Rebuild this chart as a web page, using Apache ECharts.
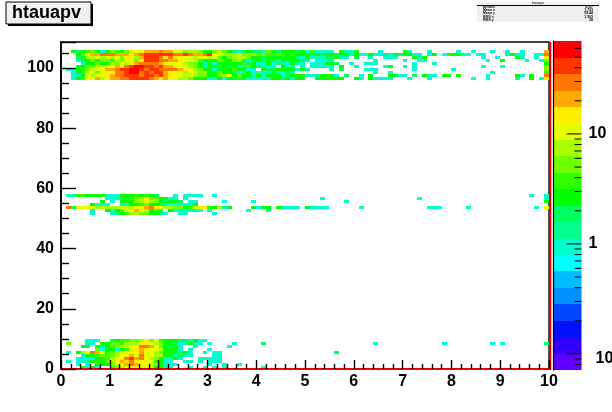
<!DOCTYPE html>
<html><head><meta charset="utf-8">
<style>html,body{margin:0;padding:0;background:#fff}#c{width:612px;height:412px}</style>
<script src="https://cdn.jsdelivr.net/npm/echarts@6/dist/echarts.min.js"></script>
</head><body><div id="c"></div>
<script>
const titleText = "htauapv";
const statLabels = ["Entries","Mean x","Mean y","RMS x","RMS y"];
const statValues = ["8707","1.733","59.44","1.503","38"];
const xTicks = [0,1,2,3,4,5,6,7,8,9,10];
const yTicks = [0,20,40,60,80,100];
const yTop = 108.6;
const colorEdges = [0.0714,0.1007,0.142,0.2,0.283,0.4,0.564,0.795,1.12,1.58,2.23,3.15,4.44,6.27,8.84,12.5,17.6,24.8,35,49.5,70];
const palette = ["#6000ff","#3000ff","#0010ff","#0048ff","#0090ff","#00bcff","#00ffff","#00ffcc","#00ff90","#00ff60","#00ff00","#30ff00","#70ff00","#a8ff00","#e4ff00","#ffee00","#ffaa00","#ff7700","#ff3300","#ff0000"];
const colorMajor = [0.1,1,10];
const colorMinor = [0.08,0.09,0.2,0.3,0.4,0.5,0.6,0.7,0.8,0.9,2,3,4,5,6,7,8,9,20,30,40,50,60];

// top band: dense values from column 0, then [column, value] tail
const r105=[0,0,3,2,3,4,5,3,1,3,5,4,3,5,10,10,12,20,20,22,25,20,18,10,10,5,7,7,5,3,3,5,7,5,3,2,1,2,3,2,2,1,5,3,2,3,3,3,2,3];
const t105=[[50,1],[51,4],[52,1],[53,1],[54,1],[55,1],[57,3],[58,1],[59,1],[60,3],[65,1],[70,3],[71,1],[75,1],[81,1],[84,1],[88,1],[91,1],[94,1],[99,20]];
const r104=[0,0,0,3,5,12,20,22,25,25,30,20,20,20,15,20,30,35,40,40,40,35,35,30,30,40,30,20,20,30,40,12,15,7,7,7,10,5,5,7,5,5,4,4,5,4,3,4,3,3];
const t104=[[50,3],[51,2],[52,3],[53,2],[54,3],[55,3],[56,2],[57,3],[58,3],[59,1],[60,3],[61,1],[62,1],[63,3],[64,1],[65,1],[66,2],[67,1],[68,3],[69,2],[70,3],[71,3],[72,1],[73,1],[75,1],[76,3],[78,1],[79,4],[80,3],[81,3],[82,1],[83,1],[85,1],[86,1],[91,1],[92,3],[93,1],[94,1],[97,1],[98,1],[99,30]];
const r103=[0,0,0,2,3,7,7,10,7,12,7,10,5,15,10,7,20,40,45,40,30,15,25,15,15,10,10,7,10,10,7,10,5,3,5,7,7,7,5,3,3,2,3,3,3,3,3,3,2,1];
const t103=[[50,3],[51,1],[52,1],[53,1],[54,2],[55,2],[56,3],[57,1],[58,1],[60,2],[63,1],[66,1],[67,1],[68,1],[72,3],[73,1],[74,3],[86,1],[89,1],[93,3],[94,1],[97,1],[99,10]];
const r102=[0,0,0,1,2,3,5,3,5,5,4,7,5,10,15,5,15,35,40,35,25,25,20,20,15,12,12,7,4,3,3,3,5,4,3,5,7,2,1,2,3,2,3,2,1,3,2,3,3,2];
const t102=[[50,1],[52,1],[53,1],[54,1],[55,1],[64,1],[70,1],[73,1],[74,1],[87,1],[90,3],[95,1],[98,1],[99,5]];
const r101=[0,0,0,0,1,3,3,5,3,3,7,5,10,7,15,20,25,30,25,30,20,15,12,10,10,7,5,5,3,1,3,1,3,3,3,3,3,4,2,3,1,1,3,1,2,1,1,3,1,1];
const t101=[[51,1],[52,1],[53,1],[54,3],[55,3],[56,2],[59,1],[62,1],[63,1],[64,1],[72,1],[76,1],[99,3]];
const r100=[0,0,0,3,3,5,5,7,10,12,12,20,15,30,40,55,55,35,40,30,40,20,20,15,10,10,7,5,3,1,3,3,2,3,2,3,1,2,5,3,2,1,1,1,0,3,1,1,0,1];
const t100=[[51,1],[52,1],[53,1],[54,1],[55,1],[57,3],[60,1],[66,1],[67,3],[70,1],[72,1],[86,1],[90,1],[99,5]];
const r99=[0,1,1,3,4,5,7,12,12,20,20,30,35,40,55,55,40,30,35,40,30,25,25,25,20,15,10,7,5,3,3,1,3,3,3,4,3,3,1,1,0,3,2,2,3,3,3,3,1,3];
const t99=[[50,1],[55,1],[57,2],[62,1],[63,1],[64,1],[72,1],[80,1],[99,5]];
const r98=[0,0,1,3,4,7,10,5,12,15,10,25,30,40,55,50,30,40,30,40,35,20,15,12,12,7,10,7,5,7,3,3,5,3,3,2,1,1,3,1,1,1,1,3,1,1,2,1];
const t98=[[64,1],[67,1],[88,1],[99,4]];
const r97=[0,0,1,1,3,10,7,12,15,10,20,30,25,35,40,40,30,40,35,30,40,20,15,15,10,7,10,7,5,5,3,3,5,7,10,3,5,3,3,1,3,1,3,3,3,1,2,3,3,3];
const t97=[[50,1],[51,1],[52,1],[53,3],[54,4],[55,3],[56,1],[58,2],[61,1],[63,3],[67,3],[68,3],[69,1],[70,1],[72,2],[74,3],[75,1],[76,1],[78,3],[79,3],[81,3],[87,1],[93,3],[94,1],[96,3],[99,30]];
const r96=[0,0,1,3,4,12,15,20,7,15,20,20,25,30,35,40,40,40,25,20,15,20,10,10,7,7,5,3,3,3,1,1,3,1,3,3,2,3,1,1,1,1,1,3,3,2,3,1,3,3];
const t96=[[52,3],[53,3],[54,3],[55,3],[56,3],[57,3],[60,3],[61,1],[63,3],[64,1],[65,1],[66,1],[67,1],[71,1],[75,1],[84,1],[87,1],[93,1],[96,3],[98,1],[99,15]];

// middle band
const r57=[0,1,1,4,4,3,3,3,3,1,1,1,3,3,3,4,3,4,3,2,0,0,0,1,0,1,1,1,1,0,0,1];
const t57=[[96,1],[99,1]];
const r56=[0,0,0,0,0,0,0,0,0,1,1,1,2,3,4,5,7,10,5,5,3,3,1,1,0,1];
const t56=[[53,1],[73,1],[99,1]];
const r55=[0,0,0,0,0,0,0,0,3,0,1,0,3,3,3,5,7,10,7,5,3,2,3,3,2,0,1,1,0,0,0,0,0,1,0,0,0,0,0,1];
const t55=[[58,1],[99,3]];
const r54=[0,0,0,0,0,0,3,1,1,1,0,0,1,1,3,3,4,5,3,3,2,1,1,1,1,1,1,3];
const t54=[];
const r53=[0,25,2,10,10,10,10,7,7,7,7,7,10,7,7,10,12,20,25,15,12,7,7,5,5,3,4,10,15,12,4,3,7,1,3,0,0,0,0,3,1,3,3,0,3,1,1,1,1];
const t53=[[50,3],[51,1],[52,1],[53,1],[54,1],[61,1],[75,1],[76,1],[77,1],[83,1],[97,1],[99,10]];
const r52=[0,0,0,0,0,0,1,0,0,3,1,3,4,10,15,20,15,7,3,4,2,0,3,1,1,1,1,1,1,0,1,0,0,0,0,0,0,0,1,0,0,0,1];
const t52=[];
const r51=[0,0,0,0,0,0,1,0,0,0,1,2,3,4,7,7,5,5,3,3,2,1,0,0,1,1,0,0,0,0,0,1];
const t51=[];

// bottom band
const r9=[0,0,0,0,0,1,1,1,0,0,2,3,4,4,5,5,7,15,5,12,4,3,3,3,2,2,1,3,1,1];
const t9=[];
const r8=[0,5,0,0,0,1,1,0,3,3,5,5,4,7,7,7,10,15,10,7,5,3,3,2,1,1,3,1,1,0,1,0,0,0,0,1,0,0,0,0,0,2];
const t8=[[64,1],[78,1],[88,1],[90,1],[99,2]];
const r7=[0,0,0,0,3,3,0,3,1,3,4,5,7,7,10,15,25,25,20,10,5,3,2,3,1,0,0,1,0,0,0,0,0,0,1];
const t7=[];
const r6=[0,0,0,0,0,0,0,5,1,3,3,1,3,4,10,15,20,15,10,10,7,3,3,3,1,0,1,0,0,0,1];
const t6=[];
const r5=[0,1,0,3,7,15,25,20,10,4,5,7,10,10,12,15,20,12,10,7,5,3,3,3,2,3,1,0,0,1,0,1,1];
const t5=[[56,2]];
const r4=[0,0,0,0,1,3,3,4,5,4,5,7,10,15,20,12,25,15,12,7,7,3,3,1,2,1,1,0,0,0,0,1,1];
const t4=[];
const r3=[0,0,0,1,1,1,1,3,3,4,7,12,15,25,35,20,25,10,7,5,3,1,1,3,1,0,0,0,1,1,1,1,1];
const t3=[];
const r2=[0,1,0,1,1,1,3,4,3,5,7,15,20,15,30,15,12,15,10,4,3,1,1,0,0,1,1,0,1,0,1,1,1];
const t2=[];
const r1=[0,0,0,1,0,1,0,3,3,3,5,10,12,20,25,20,12,10,7,7,3,1,1,1,0,0,0,0,0,0,1,0,0,1,0,0,1];
const t1=[];
const r0=[0,0,0,0,3,1,3,1,0,0,4,5,7,10,15,15,10,10,7,3,3,1,1,0,0,0,1,0,0,1,0,1,0,1,0,0,0,0,0,0,0,1];
const t0=[];

const rows=[[105,r105,t105],[104,r104,t104],[103,r103,t103],[102,r102,t102],[101,r101,t101],[100,r100,t100],[99,r99,t99],[98,r98,t98],[97,r97,t97],[96,r96,t96],
[57,r57,t57],[56,r56,t56],[55,r55,t55],[54,r54,t54],[53,r53,t53],[52,r52,t52],[51,r51,t51],
[9,r9,t9],[8,r8,t8],[7,r7,t7],[6,r6,t6],[5,r5,t5],[4,r4,t4],[3,r3,t3],[2,r2,t2],[1,r1,t1],[0,r0,t0]];
const cells=[];
rows.forEach(([y,d,t])=>{
  d.forEach((v,c)=>{if(v>0)cells.push([c/10,y,v]);});
  t.forEach(([c,v])=>cells.push([c/10,y,v]));
});
function colorOf(v){for(let i=0;i<palette.length;i++){if(v<colorEdges[i+1])return palette[i];}return palette[palette.length-1];}

const barData=palette.map((p,i)=>[colorEdges[i],colorEdges[i+1],i]);
const font='"Liberation Sans",Arial,sans-serif';
const chart=echarts.init(document.getElementById('c'),null,{renderer:'canvas'});
const axisTickStyle={color:'#000',width:1.4};
const statText=[];
statLabels.forEach((s,i)=>{
  const ys=[7,10,13,17,20];
  statText.push({type:'text',x:483,y:ys[i],style:{text:s,font:'bold 3.5px '+font,fill:'#000',textVerticalAlign:'middle'}});
  statText.push({type:'text',x:593,y:ys[i],style:{text:statValues[i],font:'bold 3.5px '+font,fill:'#000',textAlign:'right',textVerticalAlign:'middle'}});
});
chart.setOption({
  animation:false,backgroundColor:'#fff',
  grid:[
    {left:61,top:42,width:488,height:327,outerBoundsMode:'none',show:true,borderColor:'#000',borderWidth:1.4,backgroundColor:'#fff',z:0},
    {left:553,top:41,width:28.5,height:329,outerBoundsMode:'none',show:false}
  ],
  xAxis:[
    {gridIndex:0,type:'value',min:0,max:10,interval:1,z:5,
     axisLine:{show:true,lineStyle:{color:'#f00000',width:2}},
     axisTick:{show:true,inside:true,length:9,lineStyle:axisTickStyle},
     minorTick:{show:true,splitNumber:5,length:5,lineStyle:axisTickStyle},
     splitLine:{show:false},
     axisLabel:{margin:5,color:'#000',fontFamily:font,fontWeight:'bold',fontSize:16,showMaxLabel:true,showMinLabel:true}},
    {gridIndex:1,type:'value',min:0,max:1,show:false}
  ],
  yAxis:[
    {gridIndex:0,type:'value',min:0,max:yTop,interval:20,z:5,
     axisLine:{show:true,lineStyle:{color:'#000',width:1.6}},
     axisTick:{show:true,inside:true,length:15,lineStyle:axisTickStyle},
     minorTick:{show:true,splitNumber:4,length:8,lineStyle:axisTickStyle},
     splitLine:{show:false},
     axisLabel:{margin:7,padding:[4,0,0,0],color:'#000',fontFamily:font,fontWeight:'bold',fontSize:16,showMaxLabel:false}},
    {gridIndex:1,type:'log',logBase:10,min:colorEdges[0],max:colorEdges[colorEdges.length-1],position:'right',z:5,
     axisLine:{show:true,lineStyle:{color:'#000',width:1.2}},
     axisTick:{show:false},minorTick:{show:false},splitLine:{show:false},
     axisLabel:{show:true,margin:7,color:'#000',fontFamily:font,fontWeight:'bold',fontSize:16,hideOverlap:false,
       customValues:colorMajor,
       rich:{low:{fontFamily:font,fontWeight:'bold',fontSize:16,color:'#000',padding:[9,0,0,7]}},
       formatter:v=>v<0.5?'{low|10⁻¹}':String(Math.round(v))}}
  ],
  series:[
    {type:'custom',xAxisIndex:0,yAxisIndex:0,data:cells,clip:true,z:2,
     encode:{x:0,y:1},
     renderItem:(p,api)=>{
       const a=api.coord([api.value(0),api.value(1)]),b=api.coord([api.value(0)+0.1,api.value(1)+1]);
       const x0=Math.round(a[0]),x1=Math.round(b[0]),y0=Math.round(b[1]),y1=Math.round(a[1]);
       return {type:'rect',shape:{x:x0,y:y0,width:x1-x0,height:y1-y0},style:{fill:colorOf(api.value(2))}};
     }},
    {type:'custom',xAxisIndex:1,yAxisIndex:1,data:barData,z:2,
     encode:{y:[0,1]},
     renderItem:(p,api)=>{
       const a=api.coord([0,api.value(0)]),b=api.coord([1,api.value(1)]);
       return {type:'rect',shape:{x:a[0],y:Math.round(b[1]),width:b[0]-a[0],height:Math.round(a[1])-Math.round(b[1])},style:{fill:palette[api.value(2)]}};
     }},
    {type:'custom',xAxisIndex:1,yAxisIndex:1,z:4,data:colorMajor.map(v=>[v,15]).concat(colorMinor.map(v=>[v,7])),
     encode:{y:0},
     renderItem:(p,api)=>{
       const a=api.coord([1,api.value(0)]);
       return {type:'line',shape:{x1:a[0],y1:a[1],x2:a[0]-api.value(1),y2:a[1]},style:{stroke:'#000',lineWidth:1}};
     }},
    {type:'custom',xAxisIndex:0,yAxisIndex:0,z:4,data:[[10,0,yTop]],clip:false,
     encode:{x:0,y:[1,2]},
     renderItem:(p,api)=>{
       const a=api.coord([10,0]),b=api.coord([10,yTop]);
       return {type:'line',shape:{x1:a[0]+1.5,y1:a[1]+1,x2:b[0]+1.5,y2:b[1]},style:{stroke:'#e00000',lineWidth:1.6}};
     }}
  ],
  graphic:[
    {type:'rect',shape:{x:8,y:4,width:85,height:22},style:{fill:'#000'},z:10},
    {type:'rect',shape:{x:6,y:2,width:85,height:22},style:{fill:'#f0f0f0',stroke:'#000',lineWidth:1},z:11},
    {type:'text',x:46.5,y:13,style:{text:titleText,font:'bold 18px '+font,fill:'#000',textAlign:'center',textVerticalAlign:'middle'},z:12},
    {type:'rect',shape:{x:477,y:2,width:122,height:20},style:{fill:'#f0f0f0'},z:10},
    {type:'line',shape:{x1:477,y1:5.5,x2:599,y2:5.5},style:{stroke:'#000',lineWidth:1},z:11},
    {type:'text',x:538,y:3.2,style:{text:titleText,font:'3.5px '+font,fill:'#000',textAlign:'center',textVerticalAlign:'middle'},z:12},
    ...statText.map(t=>Object.assign(t,{z:12}))
  ]
});
</script></body></html>
